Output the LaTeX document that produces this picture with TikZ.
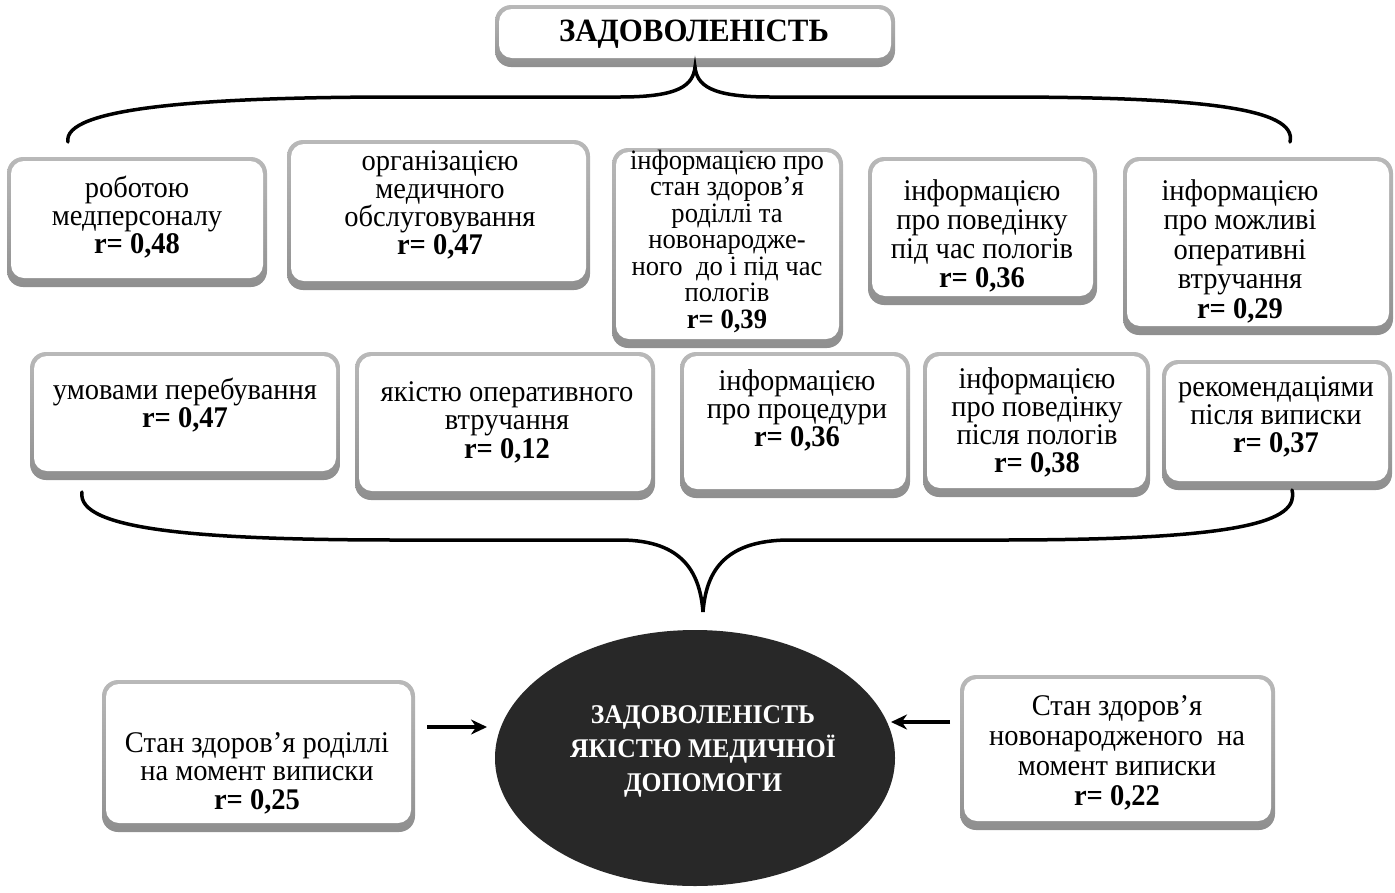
\documentclass[tikz,border=0pt]{standalone}
\usepackage{fontspec}
\setmainfont{Liberation Serif}[FakeStretch=0.95]
\usetikzlibrary{calc,arrows.meta,shapes.geometric}
\definecolor{ellfill}{HTML}{282828}
\tikzset{
  gframe/.style={shape=rectangle, rounded corners=16pt, top color=gray!55, bottom color=gray!88, inner sep=0pt, outer sep=0pt, draw=none},
  txt/.style={align=center, font=\fontsize{30}{28}\selectfont, inner sep=0pt},
  brace/.style={line width=3.5pt, line cap=round},
  arr/.style={line width=3.5pt, -{Stealth[length=16pt,width=15pt]}}
}
\newcommand\gbox[5]{%
  \pgfmathsetmacro\bw{#4-#2}\pgfmathsetmacro\bh{#5-#3}%
  \node[gframe, minimum width=\bw pt, minimum height=\bh pt] (#1) at ({(#2+#4)/2},{(#3+#5)/2}) {};
  \fill[white, rounded corners=13pt] ($(#1.north west)+(4,4)$) rectangle ($(#1.south east)+(-4,-9)$);
}
\begin{document}
\begin{tikzpicture}[x=1pt,y=-1pt]
\useasboundingbox (0,0) rectangle (1395,892);
% top title
\gbox{top}{495}{5}{895}{67}
\node[txt, font=\bfseries\fontsize{32.5}{32}\selectfont] (ttop) at (694,34) {ЗАДОВОЛЕНІСТЬ};
% top brace
\draw[brace] (68,142) .. controls (62,108) and (200,97) .. (400,97) -- (620,97) .. controls (680,97) and (693,85) .. (695,67) .. controls (697,85) and (710,97) .. (770,97) -- (1000,97) .. controls (1200,97) and (1298,108) .. (1290,142);
% row 1
\gbox{b1}{7}{157}{267}{287}
\node[txt] (t1) at (137,217) {роботою\\медперсоналу\\\textbf{r= 0,48}};
\gbox{b2}{287}{140}{590}{290}
\node[txt] (t2) at (440,205) {організацією\\медичного\\обслуговування\\\textbf{r= 0,47}};
\gbox{b3}{612}{148}{843}{348}
\node[txt, font=\fontsize{28}{26.5}\selectfont] (t3) at (727,241) {інформацією про\\стан здоров’я\\роділлі та\\новонародже-\\ного\ \ до і під час\\пологів\\\textbf{r= 0,39}};
\gbox{b4}{868}{157}{1097}{305}
\node[txt, font=\fontsize{30}{29}\selectfont] (t4) at (982,236) {інформацією\\про поведінку\\під час пологів\\\textbf{r= 0,36}};
\gbox{b5}{1123}{157}{1393}{335}
\node[txt, font=\fontsize{30}{29.5}\selectfont] (t5) at (1240,251) {інформацією\\про можливі\\оперативні\\втручання\\\textbf{r= 0,29}};
% row 2
\gbox{b6}{30}{352}{340}{480}
\node[txt] (t6) at (185,405) {умовами перебування\\\textbf{r= 0,47}};
\gbox{b7}{355}{352}{655}{500}
\node[txt, font=\fontsize{30}{28.5}\selectfont] (t7) at (507,422) {якістю оперативного\\втручання\\\textbf{r= 0,12}};
\gbox{b8}{680}{352}{910}{498}
\node[txt] (t8) at (797,410) {інформацією\\про процедури\\\textbf{r= 0,36}};
\gbox{b9}{923}{352}{1150}{497}
\node[txt] (t9) at (1037,422) {інформацією\\про поведінку\\після пологів\\\textbf{r= 0,38}};
\gbox{b10}{1162}{360}{1392}{490}
\node[txt] (t10) at (1276,417) {рекомендаціями\\після виписки\\\textbf{r= 0,37}};
% bottom brace
\draw[brace] (82,492) .. controls (76,530) and (200,540) .. (400,540) -- (620,540) .. controls (685,540) and (700,575) .. (703,612) .. controls (706,575) and (721,540) .. (790,540) -- (1000,540) .. controls (1240,540) and (1300,522) .. (1292,490);
% bottom
\node[ellipse, fill=ellfill, minimum width=400pt, minimum height=256pt, inner sep=0pt] (ell) at (695,758) {};
\node[txt, text=white, font=\bfseries\fontsize{27}{34}\selectfont] (tell) at (703,751) {ЗАДОВОЛЕНІСТЬ\\ЯКІСТЮ МЕДИЧНОЇ\\ДОПОМОГИ};
\gbox{b11}{102}{680}{415}{832}
\node[txt, font=\fontsize{30}{28.5}\selectfont] (t11) at (257,773) {Стан здоров’я роділлі\\на момент виписки\\\textbf{r= 0,25}};
\gbox{b13}{960}{675}{1275}{830}
\node[txt, font=\fontsize{30}{30}\selectfont] (t13) at (1117,753) {Стан здоров’я\\новонародженого\ \ на\\момент виписки\\\textbf{r= 0,22}};
% arrows
\coordinate (la1) at (427,727);
\coordinate (la2) at (487,727);
\coordinate (ra1) at (950,722);
\coordinate (ra2) at (891,722);
\draw[arr] (la1) -- (la2);
\draw[arr] (ra1) -- (ra2);
\end{tikzpicture}
\end{document}
